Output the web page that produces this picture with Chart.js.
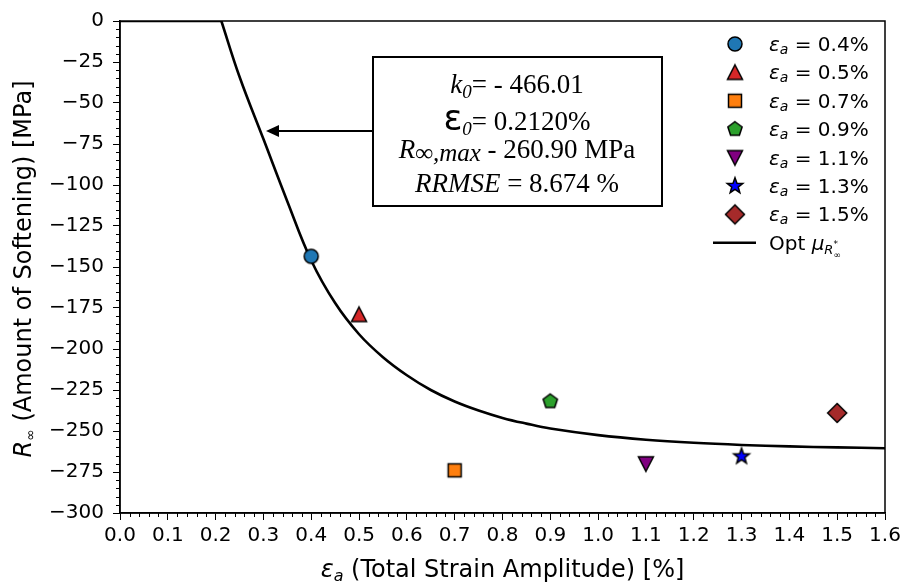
<!DOCTYPE html>
<html>
<head>
<meta charset="utf-8">
<script src="https://cdn.jsdelivr.net/npm/chart.js@4.4.1/dist/chart.umd.min.js"></script>
<style>
  body { margin: 0; background: #fff; }
  #wrap { width: 908px; height: 583px; position: relative; }
</style>
</head>
<body>
<div id="wrap"><canvas id="softening-chart"></canvas></div>
<script>
// measured points (strain amplitude in %, R_inf in MPa)
const strainAmp = [0.4, 0.5, 0.7, 0.9, 1.1, 1.3, 1.5];
const softening = [-143.5, -179, -274, -232, -270, -265.5, -239];
const legendPct = ["0.4%", "0.5%", "0.7%", "0.9%", "1.1%", "1.3%", "1.5%"];
const markerFill = ["#1f77b4", "#d62728", "#ff7f0e", "#2ca02c", "#800080", "#0000ff", "#a52a2a"];
const markerShape = ["circle", "triUp", "square", "pentagon", "triDown", "star", "diamond"];

// optimised fit curve
const fitStrain = [0, 0.212, 0.25, 0.30, 0.35, 0.40, 0.45, 0.50, 0.55, 0.60, 0.65, 0.70, 0.75, 0.80, 0.85, 0.90, 1.00, 1.10, 1.20, 1.30, 1.40, 1.50, 1.60];
const fitR      = [0, 0, -34, -72, -110, -146, -172, -191, -205, -216, -225, -232, -237.5, -242, -245.5, -248.5, -252.5, -255.3, -257.2, -258.5, -259.4, -260, -260.5];

const boxLines = [
  [{t: "k", it: true}, {t: "0", it: true, sub: true}, {t: "= - 466.01"}],
  [{t: "\u03b5", big: true}, {t: "0", it: true, sub: true}, {t: "= 0.2120%"}],
  [{t: "R", it: true}, {t: "\u221e,max", it: true, mid: true}, {t: " - 260.90 MPa"}],
  [{t: "RRMSE", it: true}, {t: " = 8.674 %"}]
];

function makeMarker(shape, fill) {
  const c = document.createElement("canvas");
  c.width = 28; c.height = 28;
  const g = c.getContext("2d");
  g.translate(14, 14);
  g.beginPath();
  if (shape === "circle") {
    g.arc(0, 0, 7, 0, Math.PI * 2);
  } else if (shape === "triUp") {
    g.moveTo(0, -7.5); g.lineTo(7.5, 7); g.lineTo(-7.5, 7); g.closePath();
  } else if (shape === "triDown") {
    g.moveTo(0, 7.5); g.lineTo(7.5, -7); g.lineTo(-7.5, -7); g.closePath();
  } else if (shape === "square") {
    g.rect(-6.5, -6.5, 13, 13);
  } else if (shape === "diamond") {
    g.moveTo(0, -9.5); g.lineTo(9.5, 0); g.lineTo(0, 9.5); g.lineTo(-9.5, 0); g.closePath();
  } else if (shape === "pentagon") {
    for (let k = 0; k < 5; k++) {
      const a = -Math.PI / 2 + k * 2 * Math.PI / 5;
      g.lineTo(7.5 * Math.cos(a), 7.5 * Math.sin(a));
    }
    g.closePath();
  } else if (shape === "star") {
    for (let k = 0; k < 10; k++) {
      const a = -Math.PI / 2 + k * Math.PI / 5;
      const r = k % 2 ? 3.4 : 8.2;
      g.lineTo(r * Math.cos(a), r * Math.sin(a));
    }
    g.closePath();
  }
  g.fillStyle = fill;
  g.fill();
  g.lineWidth = 1.5;
  g.strokeStyle = "#000";
  g.stroke();
  return c;
}

const markers = markerShape.map((s, i) => makeMarker(s, markerFill[i]));

const pointSets = strainAmp.map((x, i) => ({
  type: "scatter",
  label: "eps_a = " + legendPct[i],
  data: [{x: x, y: softening[i]}],
  pointStyle: markers[i],
  pointRadius: 8,
  pointHoverRadius: 8
}));

const curveSets = [{
  type: "line",
  label: "flat",
  data: fitStrain.slice(0, 2).map((x, i) => ({x: x, y: fitR[i]})),
  borderColor: "#000",
  borderWidth: 2.6,
  pointRadius: 0,
  showLine: true
}, {
  type: "line",
  label: "Opt",
  data: fitStrain.slice(1).map((x, i) => ({x: x, y: fitR[i + 1]})),
  borderColor: "#000",
  borderWidth: 2.6,
  pointRadius: 0,
  showLine: true,
  tension: 0.4
}];

const SANS = "DejaVu Sans";
const SERIF = "Liberation Serif";

function runWidth(ctx, parts, fontOf) {
  let w = 0;
  parts.forEach(p => { ctx.font = fontOf(p); w += ctx.measureText(p.t).width; });
  return w;
}

const extras = {
  id: "extras",
  afterDraw(chart) {
    const ctx = chart.ctx;
    const area = chart.chartArea;
    const xs = chart.scales.x, ys = chart.scales.y;
    ctx.save();

    // frame
    ctx.strokeStyle = "#000";
    ctx.lineWidth = 1.5;
    ctx.strokeRect(area.left, area.top, area.right - area.left, area.bottom - area.top);

    // minor ticks
    ctx.lineWidth = 1;
    ctx.beginPath();
    for (let i = 0; i <= 60; i++) {
      if (i % 5 === 0) continue;
      const py = Math.round(ys.getPixelForValue(-300 + i * 5)) + 0.5;
      ctx.moveTo(area.left, py); ctx.lineTo(area.left - 4, py);
    }
    for (let i = 0; i <= 80; i++) {
      if (i % 5 === 0) continue;
      const px = Math.round(xs.getPixelForValue(i * 0.02)) + 0.5;
      ctx.moveTo(px, area.bottom); ctx.lineTo(px, area.bottom + 4);
    }
    ctx.stroke();

    // annotation box with arrow
    const bx = 373, by = 57, bw = 289, bh = 149;
    ctx.fillStyle = "#fff";
    ctx.fillRect(bx, by, bw, bh);
    ctx.lineWidth = 2;
    ctx.strokeRect(bx, by, bw, bh);
    ctx.beginPath();
    ctx.moveTo(bx, 131); ctx.lineTo(278, 131);
    ctx.stroke();
    ctx.beginPath();
    ctx.moveTo(266, 131); ctx.lineTo(279, 125); ctx.lineTo(279, 137); ctx.closePath();
    ctx.fillStyle = "#000";
    ctx.fill();

    const boxFont = p => {
      if (p.big) return "35px " + SANS;
      const size = p.sub ? 19 : (p.mid ? 25 : 27);
      return (p.it ? "italic " : "") + size + "px " + SERIF;
    };
    const baselines = [93, 130, 158, 192];
    ctx.textBaseline = "alphabetic";
    ctx.textAlign = "left";
    boxLines.forEach((parts, li) => {
      let x = 517 - runWidth(ctx, parts, boxFont) / 2;
      parts.forEach(p => {
        ctx.font = boxFont(p);
        const dy = p.sub ? 5 : (p.mid ? 3 : 0);
        ctx.fillText(p.t, x, baselines[li] + dy);
        x += ctx.measureText(p.t).width;
      });
    });

    // legend
    const legTop = 44, legStep = 28.4;
    markers.forEach((m, i) => {
      const y = legTop + i * legStep;
      ctx.drawImage(m, 735 - 14, y - 14);
      let x = 769;
      ctx.font = "italic 20px " + SANS;
      ctx.fillText("\u03b5", x, y + 7);
      x += ctx.measureText("\u03b5").width;
      ctx.font = "italic 14px " + SANS;
      ctx.fillText("a", x, y + 10);
      x += ctx.measureText("a").width;
      ctx.font = "20px " + SANS;
      ctx.fillText(" = " + legendPct[i], x, y + 7);
    });
    const ly = legTop + 7 * legStep;
    ctx.lineWidth = 2.6;
    ctx.beginPath();
    ctx.moveTo(713, ly); ctx.lineTo(756, ly);
    ctx.stroke();
    {
      let x = 769;
      ctx.font = "20px " + SANS;
      ctx.fillText("Opt ", x, ly + 7);
      x += ctx.measureText("Opt ").width;
      ctx.font = "italic 20px " + SANS;
      ctx.fillText("\u03bc", x, ly + 7);
      x += ctx.measureText("\u03bc").width;
      ctx.font = "italic 13px " + SANS;
      ctx.fillText("R", x, ly + 11);
      const rw = ctx.measureText("R").width;
      ctx.font = "9px " + SANS;
      ctx.fillText("*", x + rw, ly + 4);
      ctx.fillText("\u221e", x + rw, ly + 15);
    }

    // x axis title
    {
      const parts = [{t: "\u03b5", it: true}, {t: "a", it: true, sub: true}, {t: " (Total Strain Amplitude) [%]"}];
      const f = p => (p.it ? "italic " : "") + (p.sub ? 16 : 24) + "px " + SANS;
      let x = (area.left + area.right) / 2 - runWidth(ctx, parts, f) / 2;
      parts.forEach(p => {
        ctx.font = f(p);
        ctx.fillText(p.t, x, 577 + (p.sub ? 4 : 0));
        x += ctx.measureText(p.t).width;
      });
    }

    // y axis title (rotated)
    {
      const parts = [{t: "R", it: true}, {t: "\u221e", sub: true}, {t: " (Amount of Softening) [MPa]"}];
      const f = p => (p.it ? "italic " : "") + (p.sub ? 14 : 24) + "px " + SANS;
      ctx.translate(31, (area.top + area.bottom) / 2 + 2);
      ctx.rotate(-Math.PI / 2);
      let x = -runWidth(ctx, parts, f) / 2;
      parts.forEach(p => {
        ctx.font = f(p);
        ctx.fillText(p.t, x, p.sub ? 4 : 0);
        x += ctx.measureText(p.t).width;
      });
    }
    ctx.restore();
  }
};

new Chart(document.getElementById("softening-chart"), {
  type: "scatter",
  data: { datasets: pointSets.concat(curveSets) },
  options: {
    animation: false,
    responsive: true,
    maintainAspectRatio: false,
    layout: { padding: { left: 0, top: 17, right: 23, bottom: 0 } },
    plugins: {
      legend: { display: false },
      tooltip: { enabled: false }
    },
    scales: {
      x: {
        type: "linear",
        min: 0, max: 1.6,
        afterFit: s => { s.height = 70; },
        ticks: {
          stepSize: 0.1,
          padding: 4,
          color: "#000",
          font: { family: SANS, size: 20 },
          callback: v => v.toFixed(1)
        },
        grid: { drawOnChartArea: false, drawTicks: true, tickLength: 7, color: "#000", tickWidth: 1 },
        border: { display: true, color: "#000", width: 1.5 }
      },
      y: {
        type: "linear",
        min: -300, max: 0,
        afterFit: s => { s.width = 120; },
        ticks: {
          stepSize: 25,
          padding: 9,
          color: "#000",
          font: { family: SANS, size: 20 },
          callback: v => v < 0 ? "\u2212" + Math.abs(v) : String(v)
        },
        grid: { drawOnChartArea: false, drawTicks: true, tickLength: 7, color: "#000", tickWidth: 1 },
        border: { display: true, color: "#000", width: 1.5 }
      }
    }
  },
  plugins: [extras]
});
</script>
</body>
</html>
